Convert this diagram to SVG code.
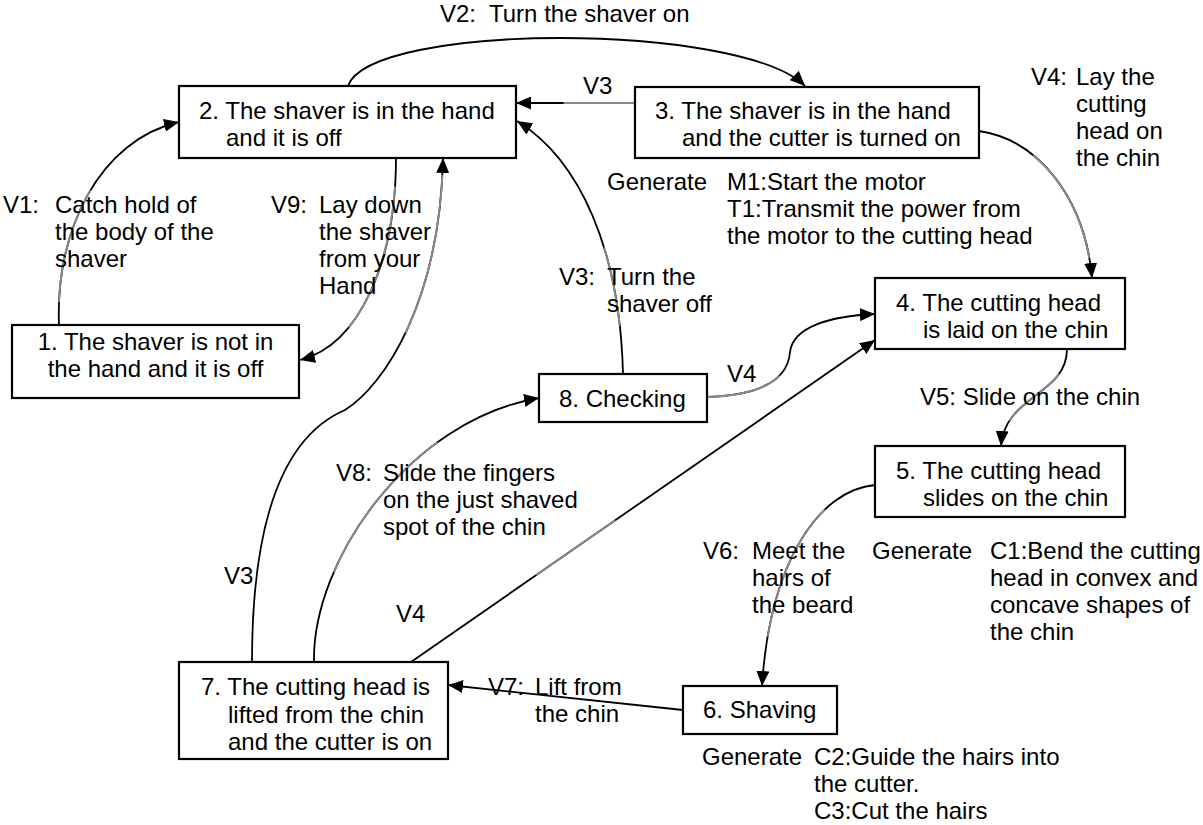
<svg xmlns="http://www.w3.org/2000/svg" width="1203" height="825" viewBox="0 0 1203 825">
<style>
text{font-family:"Liberation Sans",Arial,sans-serif;font-size:24px;fill:#000}
.box{fill:#fff;stroke:#000;stroke-width:2.2}
.c{fill:none;stroke:#000;stroke-width:1.8}
.g{fill:none;stroke:#8a8a8a;stroke-width:1.9}
</style>
<defs>
<marker id="ah" viewBox="0 0 15 13" refX="15" refY="6.5" markerWidth="15" markerHeight="13" orient="auto" markerUnits="userSpaceOnUse"><path d="M0,0 L15,6.5 L0,13 z" fill="#000"/></marker>
</defs>
<rect width="1203" height="825" fill="#fff"/>
<g id="connectors">
<path class="c" d="M348,86 C370,22 740,22 805,86" marker-end="url(#ah)"/>
<path class="c" d="M635,103 L516,103" marker-end="url(#ah)"/>
<path class="g" d="M635,103 L516,103" pathLength="100" stroke-dasharray="60 100"/>
<path class="c" d="M59,325 C55,230 100,140 179,122" marker-end="url(#ah)"/>
<path class="g" d="M59,325 C55,230 100,140 179,122" pathLength="100" stroke-dasharray="0 9 46 100"/>
<path class="c" d="M396,158 C396,260 360,345 300,360" marker-end="url(#ah)"/>
<path class="g" d="M396,158 C396,260 360,345 300,360" pathLength="100" stroke-dasharray="0 12 63 100"/>
<path class="c" d="M623,374 C620,250 580,160 517,121" marker-end="url(#ah)"/>
<path class="g" d="M623,374 C620,250 580,160 517,121" pathLength="100" stroke-dasharray="0 17 28 100"/>
<path class="c" d="M252,662 C252,540 275,440 345,410 C385,385 440,300 443,158" marker-end="url(#ah)"/>
<path class="g" d="M252,662 C252,540 275,440 345,410 C385,385 440,300 443,158" pathLength="100" stroke-dasharray="0 68 29 100"/>
<path class="c" d="M314,662 C312,560 410,420 539,398" marker-end="url(#ah)"/>
<path class="g" d="M314,662 C312,560 410,420 539,398" pathLength="100" stroke-dasharray="0 25 45 100"/>
<path class="c" d="M411,662 L875,340" marker-end="url(#ah)"/>
<path class="g" d="M411,662 L875,340" pathLength="100" stroke-dasharray="0 27 17 100"/>
<path class="c" d="M707,397 C765,395 788,378 790,352 C793,327 830,316 875,314" marker-end="url(#ah)"/>
<path class="g" d="M707,397 C765,395 788,378 790,352 C793,327 830,316 875,314" pathLength="100" stroke-dasharray="38 100"/>
<path class="c" d="M979,131 C1040,140 1085,200 1092,278" marker-end="url(#ah)"/>
<path class="g" d="M979,131 C1040,140 1085,200 1092,278" pathLength="100" stroke-dasharray="0 30 60 100"/>
<path class="c" d="M1067,349 C1067,395 1005,395 1001,446" marker-end="url(#ah)"/>
<path class="g" d="M1067,349 C1067,395 1005,395 1001,446" pathLength="100" stroke-dasharray="0 22 56 100"/>
<path class="c" d="M875,485 C820,490 770,560 762,686" marker-end="url(#ah)"/>
<path class="g" d="M875,485 C820,490 770,560 762,686" pathLength="100" stroke-dasharray="0 23 57 100"/>
<path class="c" d="M683,710 L448,685" marker-end="url(#ah)"/>
</g>
<g id="node1"><rect class="box" x="12" y="325" width="287" height="73"/>
<text x="155.5" y="350" text-anchor="middle">1. The shaver is not in</text><text x="155.5" y="377" text-anchor="middle">the hand and it is off</text></g>
<g id="node2"><rect class="box" x="179" y="86" width="337" height="72"/>
<text x="199" y="119">2. The shaver is in the hand</text><text x="226" y="146">and it is off</text></g>
<g id="node3"><rect class="box" x="635" y="87" width="344" height="71"/>
<text x="655" y="119">3. The shaver is in the hand</text><text x="682" y="146">and the cutter is turned on</text></g>
<g id="node4"><rect class="box" x="875" y="278" width="250" height="71"/>
<text x="896" y="311">4. The cutting head</text><text x="923" y="338">is laid on the chin</text></g>
<g id="node5"><rect class="box" x="875" y="446" width="250" height="71"/>
<text x="896" y="479">5. The cutting head</text><text x="923" y="506">slides on the chin</text></g>
<g id="node6"><rect class="box" x="683" y="686" width="154" height="48"/>
<text x="703" y="718">6. Shaving</text></g>
<g id="node7"><rect class="box" x="179" y="662" width="269" height="97"/>
<text x="201" y="695">7. The cutting head is</text><text x="228" y="723">lifted from the chin</text><text x="228" y="750">and the cutter is on</text></g>
<g id="node8"><rect class="box" x="539" y="374" width="168" height="48"/>
<text x="559" y="407">8. Checking</text></g>
<g id="labels">
<text x="440" y="22">V2:</text><text x="489" y="22">Turn the shaver on</text>
<text x="583" y="94">V3</text>
<text x="3" y="213">V1:</text><text x="55" y="213">Catch hold of</text><text x="55" y="240">the body of the</text><text x="55" y="267">shaver</text>
<text x="271" y="213">V9:</text><text x="319" y="213">Lay down</text><text x="319" y="240">the shaver</text><text x="319" y="267">from your</text><text x="319" y="294">Hand</text>
<text x="607" y="190">Generate</text><text x="727" y="190">M1:Start the motor</text><text x="727" y="217">T1:Transmit the power from</text><text x="727" y="244">the motor to the cutting head</text>
<text x="1031" y="85">V4:</text><text x="1076" y="85">Lay the</text><text x="1076" y="112">cutting</text><text x="1076" y="139">head on</text><text x="1076" y="166">the chin</text>
<text x="559" y="285">V3:</text><text x="607" y="285">Turn the</text><text x="607" y="312">shaver off</text>
<text x="727" y="382">V4</text>
<text x="920" y="405">V5: Slide on the chin</text>
<text x="336" y="481">V8:</text><text x="383" y="481">Slide the fingers</text><text x="383" y="508">on the just shaved</text><text x="383" y="535">spot of the chin</text>
<text x="224" y="584">V3</text>
<text x="396" y="622">V4</text>
<text x="703" y="559">V6:</text><text x="752" y="559">Meet the</text><text x="752" y="586">hairs of</text><text x="752" y="613">the beard</text>
<text x="872" y="559">Generate</text><text x="990" y="559">C1:Bend the cutting</text><text x="990" y="586">head in convex and</text><text x="990" y="613">concave shapes of</text><text x="990" y="640">the chin</text>
<text x="488" y="695">V7:</text><text x="535" y="695">Lift from</text><text x="535" y="722">the chin</text>
<text x="702" y="765">Generate</text><text x="814" y="765">C2:Guide the hairs into</text><text x="814" y="792">the cutter.</text><text x="814" y="819">C3:Cut the hairs</text>
</g>
</svg>
